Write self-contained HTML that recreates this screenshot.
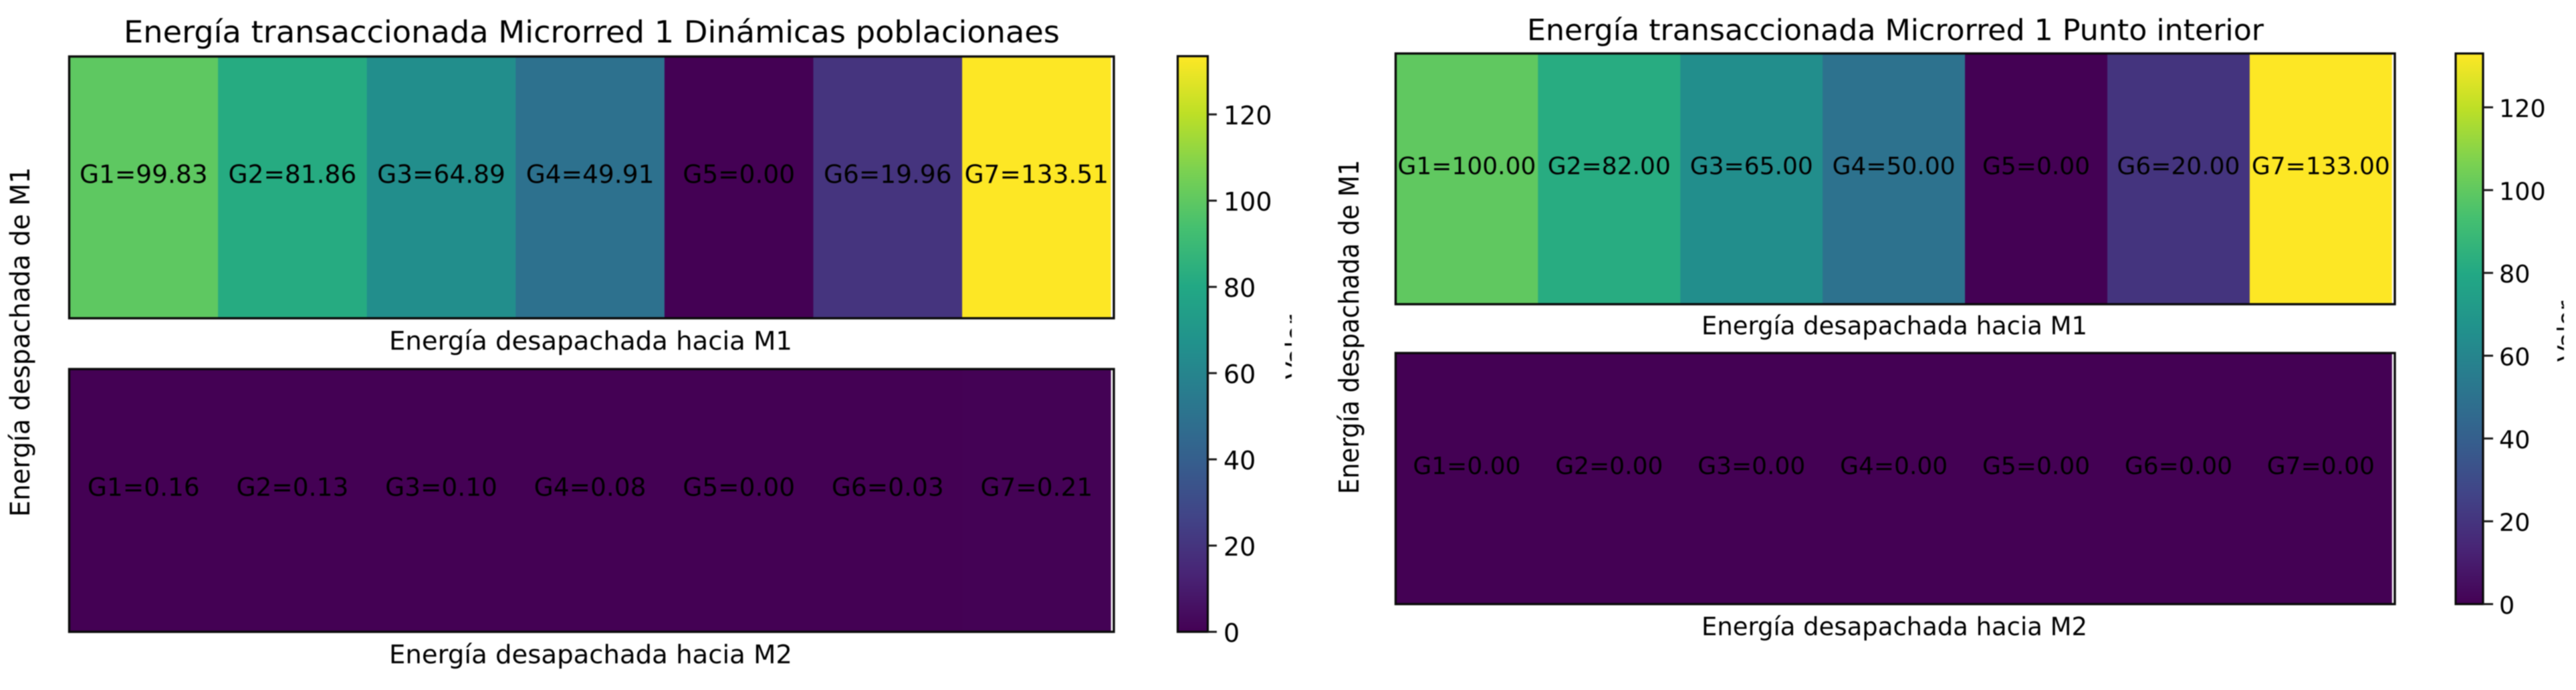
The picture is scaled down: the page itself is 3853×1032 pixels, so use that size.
<!DOCTYPE html>
<html lang="es">
<head>
<meta charset="utf-8">
<title>Energía transaccionada Microrred 1</title>
<style>
html,body{margin:0;padding:0;background:#fff;width:3853px;height:1032px;overflow:hidden}
svg{display:block}
text{font-family:"DejaVu Sans","Liberation Sans",sans-serif;fill:#000}
#chart-root{filter:blur(0.8px)}
</style>
</head>
<body>
<svg id="figure" xmlns="http://www.w3.org/2000/svg" width="3853" height="1032" viewBox="0 0 3853 1032">
  <defs>
    <linearGradient id="viridis-gradient" x1="0" y1="1" x2="0" y2="0"></linearGradient>
    <clipPath id="clip-valor-left"><rect x="1900" y="440" width="32" height="150"></rect></clipPath>
    <clipPath id="clip-valor-right"><rect x="3800" y="420" width="35" height="150"></rect></clipPath>
  </defs>
  <rect x="0" y="0" width="3853" height="1032" fill="#ffffff"></rect>
  <g id="chart-root">
    <text x="185" y="63.5" font-size="45.5" textLength="1400" lengthAdjust="spacingAndGlyphs">Energía transaccionada Microrred 1 Dinámicas poblacionaes</text>
    <text x="2284" y="60" font-size="44" textLength="1102" lengthAdjust="spacingAndGlyphs">Energía transaccionada Microrred 1 Punto interior</text>

    <text transform="translate(44,773) rotate(-90) scale(1,1.03)" font-size="38.5" textLength="523" lengthAdjust="spacingAndGlyphs">Energía despachada de M1</text>
    <text transform="translate(2032,739) rotate(-90) scale(1,1.1)" font-size="37" textLength="500" lengthAdjust="spacingAndGlyphs">Energía despachada de M1</text>

    <text x="582" y="523" font-size="38.5" textLength="603" lengthAdjust="spacingAndGlyphs">Energía desapachada hacia M1</text>
    <text x="582" y="992" font-size="38.5" textLength="603" lengthAdjust="spacingAndGlyphs">Energía desapachada hacia M2</text>
    <text x="2545" y="500" font-size="37" textLength="577" lengthAdjust="spacingAndGlyphs">Energía desapachada hacia M1</text>
    <text x="2545" y="950" font-size="37" textLength="577" lengthAdjust="spacingAndGlyphs">Energía desapachada hacia M2</text>

    <g clip-path="url(#clip-valor-left)">
      <text transform="translate(1950,567) rotate(-90)" font-size="37" textLength="96" lengthAdjust="spacingAndGlyphs">Valor</text>
    </g>
    <g clip-path="url(#clip-valor-right)">
      <text transform="translate(3851,541) rotate(-90)" font-size="36" textLength="91" lengthAdjust="spacingAndGlyphs">Valor</text>
    </g>

    <g id="marks"></g>
  </g>
</svg>
<script>
const generators = ["G1", "G2", "G3", "G4", "G5", "G6", "G7"];
const dpToM1 = [99.83, 81.86, 64.89, 49.91, 0.00, 19.96, 133.51];
const dpToM2 = [0.16, 0.13, 0.10, 0.08, 0.00, 0.03, 0.21];
const ipToM1 = [100.00, 82.00, 65.00, 50.00, 0.00, 20.00, 133.00];
const ipToM2 = [0.00, 0.00, 0.00, 0.00, 0.00, 0.00, 0.00];
const colorbarTicks = [0, 20, 40, 60, 80, 100, 120];
const viridisStops = ["#440154", "#482475", "#414487", "#355f8d", "#2a788e", "#21918c", "#22a884", "#44bf70", "#7ad151", "#bddf26", "#fde725"];

const SVG_NS = "http://www.w3.org/2000/svg";
const marks = document.getElementById("marks");

function hexToRgb(h) {
  return [parseInt(h.slice(1, 3), 16), parseInt(h.slice(3, 5), 16), parseInt(h.slice(5, 7), 16)];
}
function viridis(t) {
  const c = Math.max(0, Math.min(1, t)) * (viridisStops.length - 1);
  const i = Math.min(Math.floor(c), viridisStops.length - 2);
  const f = c - i;
  const a = hexToRgb(viridisStops[i]);
  const b = hexToRgb(viridisStops[i + 1]);
  return "rgb(" + a.map(function (v, k) { return Math.round(v + (b[k] - v) * f); }).join(",") + ")";
}
function make(tag, attrs, parent) {
  const e = document.createElementNS(SVG_NS, tag);
  Object.keys(attrs).forEach(function (k) { e.setAttribute(k, attrs[k]); });
  (parent || marks).appendChild(e);
  return e;
}

const gradient = document.getElementById("viridis-gradient");
viridisStops.forEach(function (color, i) {
  make("stop", { offset: i / (viridisStops.length - 1), "stop-color": color }, gradient);
});

function drawHeatmap(prefix, values, vmax, box) {
  const xBand = function (i) { return box.left + i * box.cell; };
  const rowHeight = box.bottom - box.top;
  const g = make("g", {});
  
  
  values.forEach(function (v, i) {
    const cell = make("rect", {
      x: xBand(i),
      y: box.top,
      width: box.cell + (i < values.length - 1 ? 0.5 : 0),
      height: rowHeight,
      fill: viridis(v / vmax)
    }, g);
    
    
  });
  const frame = make("rect", {
    x: box.left,
    y: box.top,
    width: box.right - box.left,
    height: rowHeight,
    fill: "none",
    stroke: "#0a0a0a",
    "stroke-width": 3.4
  }, g);
  
  
  values.forEach(function (v, i) {
    const label = make("text", {
      x: xBand(i) + box.cell / 2,
      y: (box.top + box.bottom) / 2 - 7,
      "font-size": box.font,
      "text-anchor": "middle"
    }, g);
    label.textContent = generators[i] + "=" + v.toFixed(2);
    
    
  });
}

function drawColorbar(prefix, vmax, bar) {
  const yScale = function (v) { return bar.bottom - (v / vmax) * (bar.bottom - bar.top); };
  const g = make("g", {});
  
  
  const ramp = make("rect", {
    x: bar.left,
    y: bar.top,
    width: bar.right - bar.left,
    height: bar.bottom - bar.top,
    fill: "url(#viridis-gradient)",
    stroke: "#0a0a0a",
    "stroke-width": 3.2
  }, g);
  
  
  colorbarTicks.forEach(function (t) {
    const y = yScale(t);
    const tick = make("line", {
      x1: bar.right,
      x2: bar.tickEnd,
      y1: y,
      y2: y,
      stroke: "#1a1a1a",
      "stroke-width": 3
    }, g);
    
    
    const label = make("text", {
      x: bar.labelX,
      y: y + bar.labelDy,
      "font-size": bar.font
    }, g);
    label.textContent = String(t);
    
    
  });
}

const leftMax = Math.max.apply(null, dpToM1.concat(dpToM2));
const rightMax = Math.max.apply(null, ipToM1.concat(ipToM2));

drawHeatmap("left-top", dpToM1, leftMax, { left: 103.5, right: 1666, cell: 222.6, top: 84.5, bottom: 476, font: 37.5 });
drawHeatmap("left-bottom", dpToM2, leftMax, { left: 103.5, right: 1666, cell: 222.6, top: 552, bottom: 945, font: 37.5 });
drawHeatmap("right-top", ipToM1, rightMax, { left: 2087.5, right: 3582, cell: 212.9, top: 80, bottom: 455, font: 36 });
drawHeatmap("right-bottom", ipToM2, rightMax, { left: 2087.5, right: 3582, cell: 212.9, top: 528, bottom: 903.5, font: 36 });

drawColorbar("left", leftMax, { left: 1761.5, right: 1806.5, top: 84, bottom: 945, tickEnd: 1820, labelX: 1830, labelDy: 15, font: 38 });
drawColorbar("right", rightMax, { left: 3673, right: 3714, top: 80, bottom: 903.5, tickEnd: 3729, labelX: 3738, labelDy: 14.5, font: 36.5 });
</script>
</body>
</html>
